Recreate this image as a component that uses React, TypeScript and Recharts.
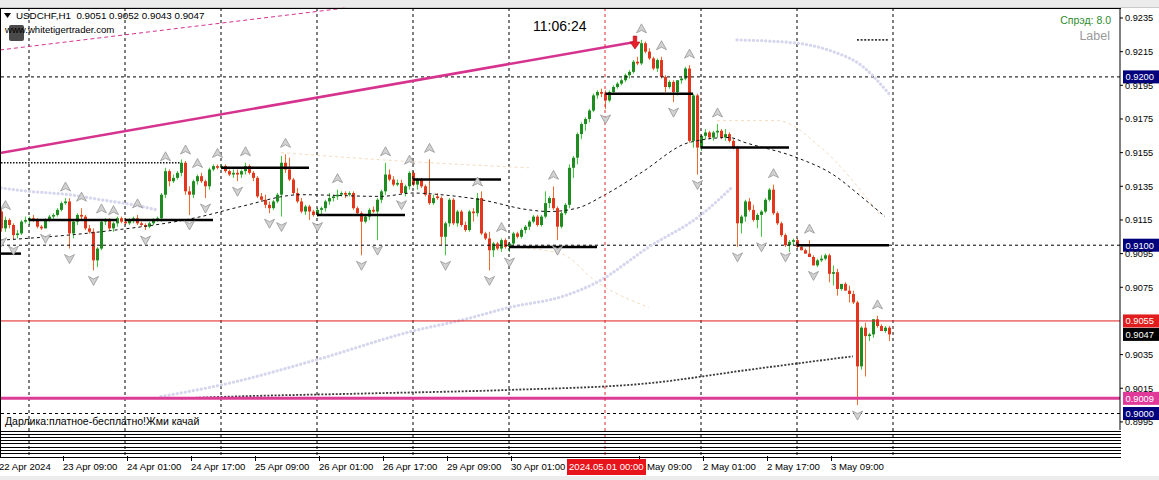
import React from 'react'
import { ComposedChart, Bar, Line, Scatter, XAxis, YAxis, ReferenceLine, ReferenceDot } from 'recharts'

const FONT = '"Liberation Sans", Arial, sans-serif'

// USDCHF H1 candles [open, high, low, close], one array per trading day
const apr22 = [
  [0.9120, 0.9122, 0.9108, 0.9110], [0.9110, 0.9117, 0.9108, 0.9115], [0.9115, 0.9116, 0.9110, 0.9112],
  [0.9112, 0.9113, 0.9103, 0.9106], [0.9106, 0.9109, 0.9104, 0.9107], [0.9107, 0.9115, 0.9106, 0.9114],
  [0.9114, 0.9117, 0.9113, 0.9115],
]
const apr23 = [
  [0.9115, 0.9117, 0.9112, 0.9116], [0.9116, 0.9118, 0.9114, 0.9115], [0.9115, 0.9116, 0.9110, 0.9111],
  [0.9111, 0.9112, 0.9109, 0.9110], [0.9110, 0.9116, 0.9110, 0.9115], [0.9115, 0.9118, 0.9114, 0.9117],
  [0.9117, 0.9119, 0.9115, 0.9118], [0.9118, 0.9122, 0.9117, 0.9121], [0.9121, 0.9126, 0.9120, 0.9125],
  [0.9125, 0.9128, 0.9124, 0.9126], [0.9126, 0.9128, 0.9098, 0.9107], [0.9107, 0.9115, 0.9104, 0.9114],
  [0.9114, 0.9119, 0.9112, 0.9118], [0.9118, 0.9122, 0.9115, 0.9117], [0.9117, 0.9118, 0.9109, 0.9110],
  [0.9110, 0.9112, 0.9107, 0.9108], [0.9108, 0.9110, 0.9085, 0.9091], [0.9091, 0.9099, 0.9087, 0.9098],
  [0.9098, 0.9115, 0.9097, 0.9114], [0.9114, 0.9116, 0.9112, 0.9115], [0.9115, 0.9116, 0.9109, 0.9110],
  [0.9110, 0.9114, 0.9108, 0.9113], [0.9113, 0.9117, 0.9111, 0.9116], [0.9116, 0.9117, 0.9113, 0.9114],
]
const apr24 = [
  [0.9114, 0.9116, 0.9112, 0.9113], [0.9113, 0.9116, 0.9112, 0.9115], [0.9115, 0.9117, 0.9113, 0.9116],
  [0.9116, 0.9118, 0.9112, 0.9113], [0.9113, 0.9114, 0.9111, 0.9112], [0.9112, 0.9113, 0.9109, 0.9111],
  [0.9111, 0.9114, 0.9110, 0.9113], [0.9113, 0.9116, 0.9112, 0.9115], [0.9115, 0.9117, 0.9114, 0.9116],
  [0.9116, 0.9131, 0.9114, 0.9130], [0.9130, 0.9146, 0.9128, 0.9144], [0.9144, 0.9145, 0.9135, 0.9138],
  [0.9138, 0.9142, 0.9137, 0.9140], [0.9140, 0.9144, 0.9139, 0.9143], [0.9143, 0.9151, 0.9141, 0.9149],
  [0.9149, 0.9150, 0.9130, 0.9132], [0.9132, 0.9135, 0.9118, 0.9130], [0.9130, 0.9139, 0.9128, 0.9138],
  [0.9138, 0.9142, 0.9136, 0.9141], [0.9141, 0.9143, 0.9137, 0.9138], [0.9138, 0.9139, 0.9128, 0.9135],
  [0.9135, 0.9146, 0.9133, 0.9145], [0.9145, 0.9148, 0.9144, 0.9147], [0.9147, 0.9148, 0.9145, 0.9146],
]
const apr25 = [
  [0.9146, 0.9148, 0.9145, 0.9147], [0.9147, 0.9148, 0.9143, 0.9144], [0.9144, 0.9145, 0.9141, 0.9142],
  [0.9142, 0.9145, 0.9140, 0.9143], [0.9143, 0.9145, 0.9138, 0.9142], [0.9142, 0.9145, 0.9140, 0.9144],
  [0.9144, 0.9149, 0.9142, 0.9147], [0.9147, 0.9148, 0.9142, 0.9143], [0.9143, 0.9144, 0.9138, 0.9140],
  [0.9140, 0.9141, 0.9128, 0.9129], [0.9129, 0.9131, 0.9126, 0.9127], [0.9127, 0.9130, 0.9122, 0.9124],
  [0.9124, 0.9126, 0.9119, 0.9122], [0.9122, 0.9127, 0.9121, 0.9126], [0.9126, 0.9131, 0.9125, 0.9130],
  [0.9130, 0.9153, 0.9117, 0.9149], [0.9149, 0.9154, 0.9143, 0.9145], [0.9145, 0.9152, 0.9138, 0.9139],
  [0.9139, 0.9140, 0.9130, 0.9131], [0.9131, 0.9134, 0.9125, 0.9126], [0.9126, 0.9128, 0.9119, 0.9120],
  [0.9120, 0.9124, 0.9118, 0.9123], [0.9123, 0.9124, 0.9115, 0.9120], [0.9120, 0.9121, 0.9117, 0.9118],
]
const apr26 = [
  [0.9118, 0.9122, 0.9117, 0.9121], [0.9121, 0.9123, 0.9118, 0.9122], [0.9122, 0.9127, 0.9120, 0.9126],
  [0.9126, 0.9131, 0.9124, 0.9128], [0.9128, 0.9130, 0.9126, 0.9129], [0.9129, 0.9133, 0.9127, 0.9130],
  [0.9130, 0.9132, 0.9129, 0.9131], [0.9131, 0.9132, 0.9128, 0.9130], [0.9130, 0.9132, 0.9129, 0.9131],
  [0.9131, 0.9132, 0.9121, 0.9122], [0.9122, 0.9123, 0.9118, 0.9119], [0.9119, 0.9120, 0.9094, 0.9114],
  [0.9114, 0.9118, 0.9113, 0.9117], [0.9117, 0.9122, 0.9115, 0.9121], [0.9121, 0.9123, 0.9119, 0.9120],
  [0.9120, 0.9128, 0.9103, 0.9127], [0.9127, 0.9133, 0.9125, 0.9132], [0.9132, 0.9149, 0.9130, 0.9142],
  [0.9142, 0.9145, 0.9138, 0.9139], [0.9139, 0.9141, 0.9135, 0.9136], [0.9136, 0.9139, 0.9135, 0.9137],
  [0.9137, 0.9139, 0.9130, 0.9131], [0.9131, 0.9136, 0.9129, 0.9135], [0.9135, 0.9144, 0.9133, 0.9143],
]
const apr29 = [
  [0.9143, 0.9144, 0.9135, 0.9136], [0.9136, 0.9140, 0.9133, 0.9139], [0.9139, 0.9140, 0.9134, 0.9135],
  [0.9135, 0.9136, 0.9129, 0.9130], [0.9130, 0.9151, 0.9124, 0.9125], [0.9125, 0.9130, 0.9124, 0.9128],
  [0.9129, 0.9131, 0.9127, 0.9128], [0.9128, 0.9129, 0.9100, 0.9105], [0.9105, 0.9114, 0.9094, 0.9113],
  [0.9113, 0.9128, 0.9111, 0.9127], [0.9127, 0.9128, 0.9112, 0.9113], [0.9113, 0.9121, 0.9111, 0.9120],
  [0.9120, 0.9121, 0.9111, 0.9112], [0.9112, 0.9114, 0.9108, 0.9109], [0.9109, 0.9121, 0.9108, 0.9120],
  [0.9120, 0.9122, 0.9114, 0.9119], [0.9119, 0.9131, 0.9117, 0.9128], [0.9128, 0.9132, 0.9106, 0.9107],
  [0.9107, 0.9108, 0.9103, 0.9104], [0.9104, 0.9108, 0.9085, 0.9097], [0.9097, 0.9102, 0.9093, 0.9101],
  [0.9101, 0.9102, 0.9097, 0.9098], [0.9098, 0.9104, 0.9096, 0.9103], [0.9103, 0.9104, 0.9098, 0.9099],
]
const apr30 = [
  [0.9099, 0.9102, 0.9096, 0.9101], [0.9101, 0.9108, 0.9100, 0.9107], [0.9107, 0.9108, 0.9104, 0.9105],
  [0.9105, 0.9110, 0.9104, 0.9109], [0.9109, 0.9112, 0.9107, 0.9111], [0.9111, 0.9115, 0.9109, 0.9114],
  [0.9114, 0.9118, 0.9113, 0.9117], [0.9117, 0.9118, 0.9111, 0.9112], [0.9112, 0.9118, 0.9111, 0.9117],
  [0.9117, 0.9132, 0.9116, 0.9125], [0.9125, 0.9129, 0.9122, 0.9128], [0.9128, 0.9135, 0.9121, 0.9122],
  [0.9122, 0.9123, 0.9103, 0.9111], [0.9111, 0.9120, 0.9110, 0.9119], [0.9119, 0.9125, 0.9118, 0.9124],
  [0.9124, 0.9148, 0.9122, 0.9146], [0.9146, 0.9153, 0.9140, 0.9152], [0.9152, 0.9167, 0.9148, 0.9166],
  [0.9166, 0.9173, 0.9163, 0.9172], [0.9172, 0.9176, 0.9168, 0.9175], [0.9175, 0.9181, 0.9173, 0.9180],
  [0.9180, 0.9190, 0.9179, 0.9189], [0.9189, 0.9192, 0.9187, 0.9191], [0.9191, 0.9193, 0.9188, 0.9190],
]
const may01 = [
  [0.9190, 0.9192, 0.9181, 0.9186], [0.9186, 0.9192, 0.9185, 0.9191], [0.9191, 0.9195, 0.9190, 0.9194],
  [0.9194, 0.9197, 0.9193, 0.9196], [0.9196, 0.9199, 0.9195, 0.9198], [0.9198, 0.9202, 0.9197, 0.9201],
  [0.9201, 0.9204, 0.9199, 0.9203], [0.9203, 0.9210, 0.9202, 0.9209], [0.9209, 0.9212, 0.9207, 0.9208],
  [0.9208, 0.9222, 0.9207, 0.9220], [0.9220, 0.9221, 0.9214, 0.9215], [0.9215, 0.9217, 0.9210, 0.9211],
  [0.9211, 0.9212, 0.9204, 0.9205], [0.9205, 0.9211, 0.9203, 0.9210], [0.9210, 0.9212, 0.9199, 0.9200],
  [0.9200, 0.9201, 0.9191, 0.9194], [0.9194, 0.9198, 0.9193, 0.9197], [0.9197, 0.9198, 0.9185, 0.9191],
  [0.9191, 0.9198, 0.9189, 0.9198], [0.9198, 0.9200, 0.9196, 0.9199], [0.9199, 0.9206, 0.9198, 0.9205],
  [0.9205, 0.9207, 0.9161, 0.9162], [0.9162, 0.9190, 0.9158, 0.9189], [0.9189, 0.9190, 0.9142, 0.9158],
]
const may02 = [
  [0.9158, 0.9166, 0.9156, 0.9165], [0.9165, 0.9169, 0.9163, 0.9167], [0.9167, 0.9168, 0.9163, 0.9164],
  [0.9164, 0.9168, 0.9162, 0.9167], [0.9167, 0.9172, 0.9164, 0.9168], [0.9168, 0.9169, 0.9163, 0.9164],
  [0.9164, 0.9169, 0.9162, 0.9166], [0.9166, 0.9167, 0.9161, 0.9162], [0.9162, 0.9163, 0.9157, 0.9158],
  [0.9158, 0.9159, 0.9099, 0.9113], [0.9113, 0.9118, 0.9107, 0.9117], [0.9117, 0.9127, 0.9114, 0.9126],
  [0.9126, 0.9128, 0.9120, 0.9121], [0.9121, 0.9124, 0.9114, 0.9115], [0.9115, 0.9119, 0.9110, 0.9118],
  [0.9118, 0.9121, 0.9105, 0.9120], [0.9120, 0.9128, 0.9119, 0.9127], [0.9127, 0.9134, 0.9126, 0.9133],
  [0.9133, 0.9136, 0.9118, 0.9119], [0.9119, 0.9120, 0.9112, 0.9113], [0.9113, 0.9114, 0.9105, 0.9106],
  [0.9106, 0.9107, 0.9099, 0.9100], [0.9100, 0.9103, 0.9096, 0.9102], [0.9102, 0.9104, 0.9100, 0.9103],
]
const may03 = [
  [0.9103, 0.9104, 0.9098, 0.9099], [0.9099, 0.9100, 0.9097, 0.9097], [0.9097, 0.9098, 0.9095, 0.9095],
  [0.9095, 0.9103, 0.9093, 0.9093], [0.9093, 0.9094, 0.9088, 0.9088], [0.9088, 0.9092, 0.9087, 0.9091],
  [0.9091, 0.9094, 0.9090, 0.9092], [0.9092, 0.9095, 0.9091, 0.9094], [0.9094, 0.9095, 0.9078, 0.9083],
  [0.9083, 0.9088, 0.9076, 0.9084], [0.9084, 0.9086, 0.9070, 0.9074], [0.9074, 0.9077, 0.9073, 0.9077],
  [0.9077, 0.9078, 0.9073, 0.9073], [0.9073, 0.9076, 0.9066, 0.9071], [0.9071, 0.9073, 0.9065, 0.9066],
  [0.9066, 0.9067, 0.9005, 0.9028], [0.9028, 0.9052, 0.9026, 0.9051], [0.9051, 0.9054, 0.9022, 0.9046],
  [0.9046, 0.9048, 0.9043, 0.9047], [0.9047, 0.9056, 0.9045, 0.9056], [0.9056, 0.9058, 0.9051, 0.9052],
  [0.9052, 0.9053, 0.9049, 0.9049], [0.9049, 0.9052, 0.9048, 0.9051], [0.9051, 0.9052, 0.9043, 0.9047],
]

// fractal bars (index of bar)
const fractalUp = [1, 16, 20, 25, 28, 34, 41, 46, 49, 54, 61, 71, 84, 96, 102, 107, 119, 125, 138, 160, 165, 172, 179, 193, 202, 219]
const fractalDown = [0, 3, 11, 17, 23, 36, 47, 51, 59, 67, 70, 79, 90, 94, 100, 111, 122, 127, 139, 151, 168, 174, 184, 190, 196, 203, 214]

// indicator lines [bar, price]
const maDashed = [[0, 0.9103], [25, 0.9108], [50, 0.9117], [60, 0.9123], [75, 0.9130], [95, 0.9129], [103, 0.9131], [110, 0.9130], [120, 0.9127], [132, 0.9121], [137, 0.9120], [144, 0.9122], [151, 0.9130], [160, 0.9143], [172, 0.9161], [182, 0.9164], [186, 0.9161], [199, 0.9152], [208, 0.9142], [215, 0.9129], [221, 0.9117]]
const lavUpperLeft = [[0, 0.9134], [7, 0.9132], [17, 0.9130], [25, 0.9127], [33, 0.9124], [39, 0.9121]]
const lavLower = [[40, 0.9010], [57, 0.9018], [79, 0.9032], [103, 0.9049], [116, 0.9056], [127, 0.9063], [141, 0.9070], [149, 0.9078], [162, 0.9099], [175, 0.9118], [183, 0.9135]]
const lavUpperRight = [[184, 0.9222], [199, 0.9220], [208, 0.9215], [215, 0.9207], [222, 0.9190]]
const diamondLine = [[45, 0.9009], [57, 0.9010], [93, 0.9012], [127, 0.9014], [162, 0.9018], [187, 0.9026], [213, 0.9034]]
const dottedHigh = [[0, 0.9149], [45, 0.9149]]
const dottedTop = [[214, 0.9222], [222, 0.9222]]
const envUpper = [[70, 0.9155], [100, 0.9150], [132, 0.9146]]
const envRight = [[179, 0.9174], [194, 0.9174], [205, 0.9158], [220, 0.9117]]
const envLower = [[127, 0.9099], [140, 0.9095], [149, 0.9078], [162, 0.9063]]

// support / resistance segments [fromBar, toBar, price]
const levels = [[0, 5, 0.9095], [7, 29, 0.9115], [31, 53, 0.9115], [55, 77, 0.9146], [79, 101, 0.9118], [103, 125, 0.9139], [127, 149, 0.9099], [151, 173, 0.9190], [175, 197, 0.9158], [199, 222, 0.9100]]

const dayStarts = [7, 31, 55, 79, 103, 127, 175, 199, 223]
const cursorBar = 151
const cursorLabel = '2024.05.01 00:00'
const roundLevels = [0.92, 0.91, 0.90]
const redLevel = 0.9055
const pinkLevel = 0.9009
const trendMain = [[-0.25, 0.91548], [158.5, 0.92207]]
const trendDashed = [[-0.25, 0.9216], [86, 0.92409]]

const timeTicks = [0, 16, 32, 48, 64, 80, 96, 112, 128, 160, 176, 192, 208]
const timeLabels = ['22 Apr 2024', '23 Apr 09:00', '24 Apr 01:00', '24 Apr 17:00', '25 Apr 09:00', '26 Apr 01:00', '26 Apr 17:00', '29 Apr 09:00', '30 Apr 01:00', '1 May 09:00', '2 May 01:00', '2 May 17:00', '3 May 09:00']
const priceTicks = [0.9235, 0.9215, 0.9195, 0.9175, 0.9155, 0.9135, 0.9115, 0.9095, 0.9075, 0.9035, 0.9015, 0.8995]
const Y_DOMAIN = [0.89902, 0.924094]
const PANEL_BOTTOM = 0.8974

const candles = [...apr22, ...apr23, ...apr24, ...apr25, ...apr26, ...apr29, ...apr30, ...may01, ...may02, ...may03]
const rows = candles.map(([o, h, l, c], i) => ({ i, o, h, l, c, range: [l, h] }))
const last = candles[candles.length - 1]
const pts = (a: number[][]) => a.map(([i, v]) => ({ i, v }))
const upPts = fractalUp.map(i => ({ i, v: candles[i][1] }))
const downPts = fractalDown.map(i => ({ i, v: candles[i][2] }))

function Candle(props: any) {
  const { x, y, width, height, payload } = props
  if (!payload || !isFinite(y)) return null
  const { o, h, l, c } = payload
  const top = Math.min(y, y + height)
  const span = Math.abs(height)
  const k = span / (h - l)
  const py = (v: number) => top + (h - v) * k
  const cx = Math.round(x + width / 2)
  const up = c >= o
  const bTop = py(Math.max(o, c))
  const bh = Math.max(1, py(Math.min(o, c)) - bTop)
  const small = bh < 1.6
  const body = up ? (small ? '#3ccc3c' : '#1f8c22') : '#e4361c'
  return (
    <g>
      <line x1={cx + 0.5} x2={cx + 0.5} y1={top} y2={top + span} stroke={up ? '#3ccc3c' : '#f06a2c'} strokeWidth={1} />
      <rect x={cx - 1} y={bTop} width={3} height={bh} fill={body} />
    </g>
  )
}

const Chevron = ({ cx, cy, up }: any) => {
  if (!isFinite(cx) || !isFinite(cy)) return null
  const y0 = up ? cy - 11 : cy + 10
  const d = up ? 'M0,-5 L5,4 L0,1.5 L-5,4 Z' : 'M0,5 L5,-4 L0,-1.5 L-5,-4 Z'
  return <path d={d} transform={`translate(${cx + 0.5},${y0})`} fill="#d2d2d2" stroke="#969696" strokeWidth={0.8} />
}

const PriceTag = ({ viewBox, text, bg }: any) => {
  if (!viewBox) return null
  const { x, y, width } = viewBox
  const left = x + width + 3
  return (
    <g>
      <rect x={left} y={y - 6.5} width={36} height={13} fill={bg} />
      <text x={left + 2.5} y={y + 3.3} fontSize={9.3} fontFamily={FONT} fill="#fff">{text}</text>
    </g>
  )
}

const DownArrow = ({ cx, cy }: any) => {
  if (!isFinite(cx)) return null
  return (
    <path d="M-1.8,-9 L1.8,-9 L1.8,-3 L5,-3 L0,4 L-5,-3 L-1.8,-3 Z" transform={`translate(${cx},${cy + 3})`} fill="#e8202a" stroke="#b01018" strokeWidth={0.6} />
  )
}

const TimeTick = (p: any) => {
  const v = p.payload.value
  if (v === cursorBar) {
    return (
      <g>
        <rect x={p.x - 38} y={p.y + 29} width={79} height={16} fill="#e8141c" />
        <text x={p.x - 36} y={p.y + 39.5} fontSize={9.6} fontFamily={FONT} fill="#fff">{cursorLabel}</text>
      </g>
    )
  }
  const idx = timeTicks.indexOf(v)
  if (idx < 0) return null
  return (
    <g>
      <line x1={p.x - 1.5} x2={p.x - 1.5} y1={p.y + 26} y2={p.y + 31} stroke="#000" />
      <text x={p.x - 2} y={p.y + 39.5} fontSize={9.6} fontFamily={FONT} fill="#000">{timeLabels[idx]}</text>
    </g>
  )
}

const PriceTick = (p: any) => (
  <text x={p.x} y={p.y + 3.3} fontSize={9.2} fontFamily={FONT} fill="#000">{p.payload.value.toFixed(4)}</text>
)

const lowerPanel = [431, 434, 437, 440, 443, 447, 450, 453, 457]

export default function App() {
  const fmt = (v: number) => v.toFixed(4)
  return (
    <div style={{ position: 'absolute', left: 0, top: 0, width: 1159, height: 480, background: '#fff', overflow: 'hidden', fontFamily: FONT }}>
      <div style={{ position: 'absolute', left: 0, top: 0, width: 1159, height: 7, background: '#ececec', borderBottom: '1px solid #c8c8c8' }} />
      <div style={{ position: 'absolute', left: 0, top: 476, width: 1159, height: 4, background: '#ececec' }} />
      <ComposedChart width={1159} height={480} data={rows} margin={{ top: 8, right: 0, bottom: 0, left: 0 }}>
        <XAxis dataKey="i" type="number" domain={[-0.25, 279.75]} allowDataOverflow ticks={[...timeTicks, cursorBar]} interval={0}
          axisLine={false} tickLine={false} tickSize={0} tickMargin={0} height={50} tick={<TimeTick />} />
        <YAxis orientation="right" width={39} domain={Y_DOMAIN} allowDataOverflow ticks={priceTicks} interval={0}
          axisLine={{ stroke: '#000' }} tickLine={{ stroke: '#000' }} tickSize={3} tickMargin={2} tick={<PriceTick />} />

        {dayStarts.map(d => (
          <ReferenceLine key={'g' + d} segment={[{ x: d, y: Y_DOMAIN[1] }, { x: d, y: PANEL_BOTTOM }]} ifOverflow="visible"
            stroke="#000" strokeDasharray="3 3" />
        ))}
        {roundLevels.map(v => (
          <ReferenceLine key={'r' + v} y={v} stroke="#000" strokeDasharray="3 3"
            label={<PriceTag text={fmt(v)} bg="#00007c" />} />
        ))}

        <Line data={pts(envUpper)} dataKey="v" type="monotone" stroke="#f2dcc0" strokeDasharray="3 3" dot={false} isAnimationActive={false} />
        <Line data={pts(envRight)} dataKey="v" type="monotone" stroke="#f2dcc0" strokeDasharray="3 3" dot={false} isAnimationActive={false} />
        <Line data={pts(envLower)} dataKey="v" type="monotone" stroke="#f2dcc0" strokeDasharray="3 3" dot={false} isAnimationActive={false} />
        <Line data={pts(lavUpperLeft)} dataKey="v" type="monotone" stroke="#d6d6ee" strokeWidth={3.2} strokeDasharray="0.1 4" strokeLinecap="round" dot={false} isAnimationActive={false} />
        <Line data={pts(lavLower)} dataKey="v" type="monotone" stroke="#d6d6ee" strokeWidth={3.2} strokeDasharray="0.1 4" strokeLinecap="round" dot={false} isAnimationActive={false} />
        <Line data={pts(lavUpperRight)} dataKey="v" type="monotone" stroke="#d6d6ee" strokeWidth={3.2} strokeDasharray="0.1 4" strokeLinecap="round" dot={false} isAnimationActive={false} />
        <Line data={pts(diamondLine)} dataKey="v" type="monotone" stroke="#3a3a3a" strokeWidth={1.8} strokeDasharray="2 1.6" dot={false} isAnimationActive={false} />
        <Line data={pts(dottedHigh)} dataKey="v" type="linear" stroke="#111" strokeWidth={1.6} strokeDasharray="1.5 1.5" dot={false} isAnimationActive={false} />
        <Line data={pts(dottedTop)} dataKey="v" type="linear" stroke="#3a3a3a" strokeWidth={1.8} strokeDasharray="2 1.6" dot={false} isAnimationActive={false} />
        <Line data={pts(maDashed)} dataKey="v" type="monotone" stroke="#111" strokeWidth={1} strokeDasharray="3 3" dot={false} isAnimationActive={false} />

        <Bar dataKey="range" barSize={3} shape={<Candle />} isAnimationActive={false} />

        <Scatter data={upPts} dataKey="v" shape={(p: any) => <Chevron {...p} up />} isAnimationActive={false} />
        <Scatter data={downPts} dataKey="v" shape={(p: any) => <Chevron {...p} up={false} />} isAnimationActive={false} />

        {levels.map(([a, b, v]) => (
          <ReferenceLine key={'l' + a} segment={[{ x: a, y: v }, { x: b, y: v }]} stroke="#000" strokeWidth={2.5} />
        ))}
        <ReferenceLine y={redLevel} stroke="#e21d1d" strokeWidth={1} label={<PriceTag text={fmt(redLevel)} bg="#e21d1d" />} />
        <ReferenceLine y={last[3]} stroke="none" label={<PriceTag text={fmt(last[3])} bg="#000" />} />
        <ReferenceLine y={pinkLevel} stroke="#dc3b96" strokeWidth={3} label={<PriceTag text={fmt(pinkLevel)} bg="#e0399a" />} />
        <ReferenceLine segment={trendMain.map(([x, y]) => ({ x, y }))} ifOverflow="visible" stroke="#d6338f" strokeWidth={2.6} />
        <ReferenceLine segment={trendDashed.map(([x, y]) => ({ x, y }))} ifOverflow="visible" stroke="#d6338f" strokeWidth={1} strokeDasharray="4 3" />
        <ReferenceLine segment={[{ x: cursorBar, y: Y_DOMAIN[1] }, { x: cursorBar, y: PANEL_BOTTOM }]} ifOverflow="visible"
          stroke="#e0282c" strokeDasharray="3 3" />
        <ReferenceDot x={trendMain[1][0]} y={trendMain[1][1]} r={1} shape={(p: any) => <DownArrow {...p} />} />
      </ComposedChart>

      {/* frame and collapsed sub-window */}
      <div style={{ position: 'absolute', left: 0, top: 8, width: 1121, height: 1, background: '#000' }} />
      <div style={{ position: 'absolute', left: 0, top: 8, width: 1, height: 450, background: '#000' }} />
      {lowerPanel.map(t => (
        <div key={t} style={{ position: 'absolute', left: 0, top: t, width: 1121, height: 1, background: '#000' }} />
      ))}

      {/* texts */}
      <svg style={{ position: 'absolute', left: 4, top: 13 }} width={8} height={6}><path d="M0,0 L7,0 L3.5,5 Z" fill="#000" /></svg>
      <div style={{ position: 'absolute', left: 16, top: 10, fontSize: 9.8, lineHeight: '12px', whiteSpace: 'pre', color: '#000' }}>
        {`USDCHF,H1  ${fmt(last[0])} ${fmt(last[1])} ${fmt(last[2])} ${fmt(last[3])}`}
      </div>
      <div style={{ position: 'absolute', left: 9, top: 25, width: 15, height: 16, background: '#4a4a4a', borderRadius: 2 }} />
      <div style={{ position: 'absolute', left: 5, top: 24, fontSize: 9.6, lineHeight: '12px', whiteSpace: 'pre', color: '#000' }}>www.whitetigertrader.com</div>
      <div style={{ position: 'absolute', left: 533, top: 18, fontSize: 14, lineHeight: '16px', color: '#000' }}>11:06:24</div>
      <div style={{ position: 'absolute', right: 48, top: 14, fontSize: 10.5, lineHeight: '13px', color: '#2e8b2e' }}>Спрэд: 8.0</div>
      <div style={{ position: 'absolute', right: 49, top: 29, fontSize: 12.5, lineHeight: '15px', color: '#9a9a9a' }}>Label</div>
      <div style={{ position: 'absolute', left: 5, top: 415, fontSize: 10.5, lineHeight: '12px', whiteSpace: 'pre', color: '#000' }}>Дарлика:платное-бесплатно!Жми качай</div>
    </div>
  )
}
